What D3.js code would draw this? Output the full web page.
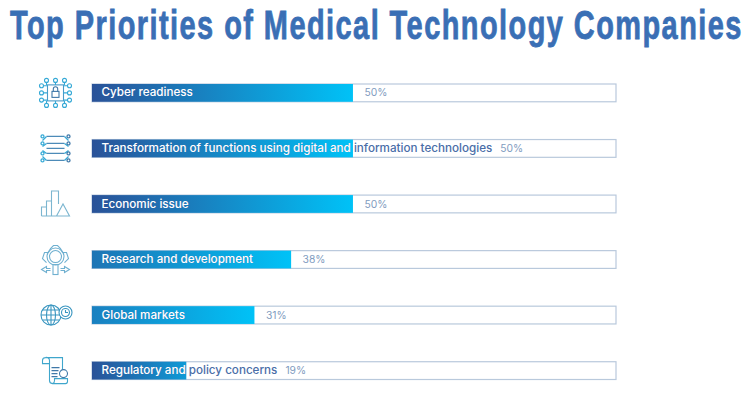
<!DOCTYPE html>
<html><head><meta charset="utf-8">
<script src="https://cdn.jsdelivr.net/npm/d3@7/dist/d3.min.js"></script>
<style>html,body{margin:0;padding:0;background:#fff;overflow:hidden}svg{display:block}</style>
</head><body><svg id="c" width="750" height="394"></svg>
<script>
const titleText = "Top Priorities of Medical Technology Companies";
const categories = ["Cyber readiness","Transformation of functions using digital and information technologies","Economic issue","Research and development","Global markets","Regulatory and policy concerns"];
const percentLabels = ["50%","50%","50%","38%","31%","19%"];
const barValues = [49.8,49.8,49.8,38,31,18];
const gradientStarts = ["#2a5298","#2a5298","#2a5298","#1e74b4","#1a80c0","#2a5298"];
const gradientEnds = ["#00c2f7","#00c2f7","#00c2f7","#00c2f7","#00c2f7","#0e9ad6"];
const iconNames = ["cyber","transform","economic","research","global","regulatory"];

const svg = d3.select("#c");
const x = d3.scaleLinear().domain([0,100]).range([92,616]);
const y = d3.scaleBand().domain(categories).range([84,379.5]).paddingInner(0.68).paddingOuter(0);
const defs = svg.append("defs");

const title = svg.append("text").attr("font-family","'Liberation Sans Narrow','Liberation Sans',sans-serif")
  .attr("font-weight",700).attr("font-size",40).attr("letter-spacing",2).attr("fill","#3a6fb5").attr("stroke","#3a6fb5").attr("stroke-width",0.8)
  .text(titleText);
const tk = 733/title.node().getComputedTextLength();
title.attr("transform",`translate(10,39) scale(${Math.min(tk,1)},1)`);

const font = "Inter,'Open Sans',sans-serif";
categories.forEach((c,i)=>{
  const g = svg.append("g");
  const yy = y(c), h = y.bandwidth(), w = x(barValues[i])-x(0);
  const gr = defs.append("linearGradient").attr("id","g"+i);
  gr.append("stop").attr("offset",0).attr("stop-color",gradientStarts[i]);
  gr.append("stop").attr("offset",1).attr("stop-color",gradientEnds[i]);
  defs.append("clipPath").attr("id","k"+i).append("rect").attr("x",x(0)).attr("y",yy).attr("width",w).attr("height",h);
  g.append("rect").attr("x",x(0)).attr("y",yy).attr("width",x(100)-x(0)).attr("height",h)
    .attr("fill","#fff").attr("stroke","#b9c9dc").attr("stroke-width",1.2);
  g.append("rect").attr("x",x(0)).attr("y",yy).attr("width",w).attr("height",h).attr("fill",`url(#g${i})`);
  const label = t => g.append("text").attr("x",x(0)+9.5).attr("y",yy+h/2+3.6)
    .attr("font-family",font).attr("font-weight",500).attr("font-size",11.65).text(t);
  label(c).attr("fill","#4a6ea8");
  const white = label(c).attr("fill","#fff").attr("clip-path",`url(#k${i})`);
  const tw = white.node().getComputedTextLength();
  const px = Math.max(x(0)+9.5+tw+8, x(barValues[i])+11.5);
  g.append("text").attr("x",px).attr("y",yy+h/2+3.6).attr("font-family",font)
    .attr("font-size",10.3).attr("fill","#7f9cc0").text(percentLabels[i]);
  drawIcon(iconNames[i], svg.append("g").attr("transform",`translate(55.5,${yy+h/2})`));
});

function drawIcon(name,g){
  g.attr("fill","none").attr("stroke-width",1.1).attr("stroke","#35a9d6");
  const dark="#3f78a8";
  if(name==="cyber"){
    g.append("rect").attr("x",-8).attr("y",-8).attr("width",16).attr("height",16).attr("stroke","#4a9ac8").attr("fill","#fff");
    g.append("rect").attr("x",-3.5).attr("y",-1.500).attr("width",7).attr("height",6).attr("stroke",dark);
    g.append("path").attr("d","M-2.200,-1.500v-2.500a2.200,2.200 0 0 1 4.400,0v2.500").attr("stroke",dark);
    [-9,0,9].forEach(v=>{
      [[v,-12.500],[v,12.500],[-14,v*0.8],[14,v*0.8]].forEach(p=>{
        g.append("circle").attr("cx",p[0]).attr("cy",p[1]).attr("r",2);
      });
      g.append("path").attr("d",`M${v},-10.500V-8M${v},10.500V8M-12,${v*0.8}H-8M12,${v*0.8}H8`);
    });
  }
  if(name==="transform"){
    g.attr("stroke-width",1.3);
    g.append("path").attr("d","M-9,-12H9M-9,-5H9M-9,0H9M-9,5H9M-9,12H9").attr("stroke","#4d8bb8");
    ["M-9,-12L-13,-8M-9,-5L-13,-2M-9,5L-13,2M-9,12L-13,8","M9,-12L13,-8M9,-5L13,-2M9,5L13,2M9,12L13,8"]
      .forEach(d=>g.append("path").attr("d",d));
    [-12,-5,5,12].forEach(v=>{
      g.append("circle").attr("cx",-13).attr("cy",v).attr("r",1.500);
      g.append("circle").attr("cx",13).attr("cy",v).attr("r",1.500).attr("stroke",dark);
    });
  }
  if(name==="economic"){
    g.attr("stroke","#7cb6d0");
    g.append("path").attr("d","M-14,12V3H-9V12M-9,12V-3H-4V12M-4,12V-13H3V0");
    g.append("path").attr("d","M-14,12H1M1,12L7.500,0L14,12Z");
  }
  if(name==="research"){
    g.attr("stroke","#6fb0d0");
    g.append("path").attr("d","M-9,3L-13,-1L-11,-7L-7,-7L-5,-11L-2,-14H2L5,-11L7,-7L11,-7L13,-1L9,3");
    g.append("circle").attr("cy",-3).attr("r",8.500);
    g.append("circle").attr("cy",-3).attr("r",6);
    g.append("rect").attr("x",-2.500).attr("y",5).attr("width",5).attr("height",10);
    g.append("path").attr("d","M-5,9H-9V7L-14,10L-9,13V11H-5M5,9H9V7L14,10L9,13V11H5");
  }
  if(name==="global"){
    g.attr("stroke","#3a96c0");
    g.append("circle").attr("cx",-4.500).attr("cy",0).attr("r",10);
    g.append("ellipse").attr("cx",-4.500).attr("cy",0).attr("rx",4.500).attr("ry",10);
    g.append("path").attr("d","M-14.500,0H5.500M-13,-5H4M-13,5H4M-4.500,-10V10");
    g.append("circle").attr("cx",10).attr("cy",-2.500).attr("r",6.500).attr("fill","#fff");
    g.append("circle").attr("cx",10).attr("cy",-2.500).attr("r",4);
    g.append("path").attr("d","M10,-5V-2.500H12.500");
  }
  if(name==="regulatory"){
    g.attr("stroke","#3fa6cc");
    g.append("path").attr("d","M-10,-13H7V3M-10,-13a3,3 0 0 0 -3,3V-7H-6V-10a3,3 0 0 0 -4,-3M-6,-7V10a3,3 0 0 0 3,3H10a2,2 0 0 0 2,-2V8H-1V10a3,3 0 0 1 -2,3");
    g.append("path").attr("d","M-4,-3H4M-4,0H3M-4,3H2M-4,6H2").attr("stroke",dark);
    g.append("circle").attr("cx",8).attr("cy",3).attr("r",4).attr("stroke",dark).attr("fill","#fff");
  }
}
</script></body></html>
